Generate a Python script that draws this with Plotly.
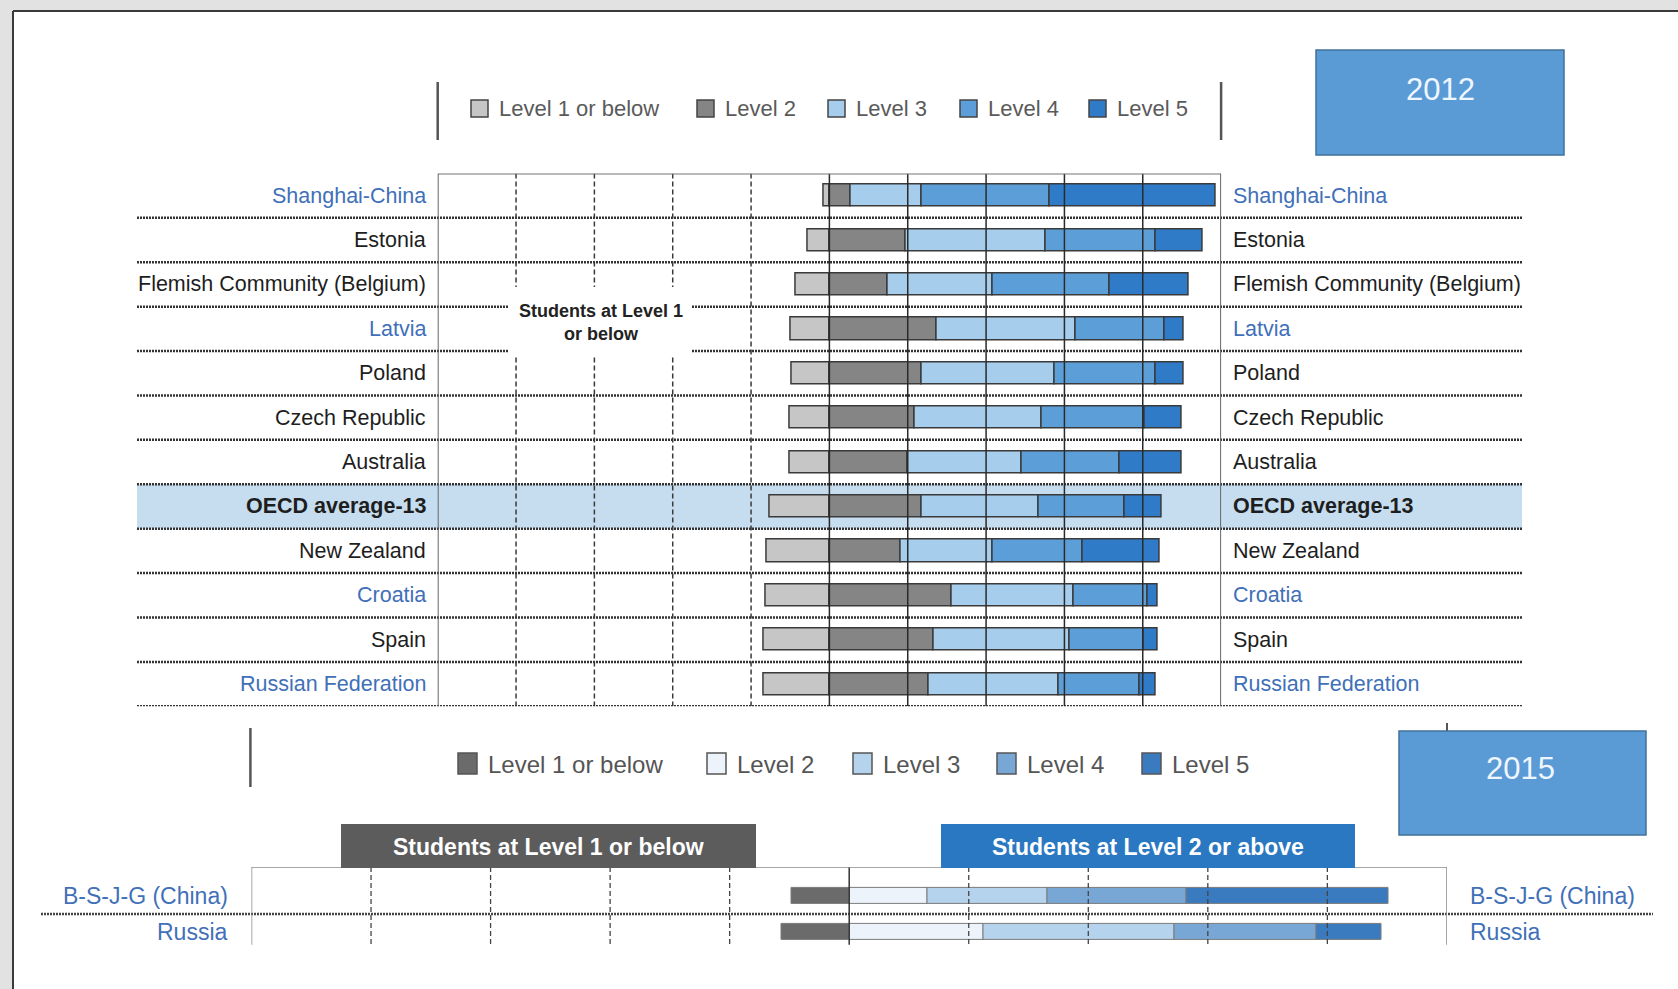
import plotly.graph_objects as go

# ---------------- data ----------------
levels = ["Level 1 or below", "Level 2", "Level 3", "Level 4", "Level 5"]

countries_2012 = ["Shanghai-China", "Estonia", "Flemish Community (Belgium)", "Latvia", "Poland",
                  "Czech Republic", "Australia", "OECD average-13", "New Zealand", "Croatia",
                  "Spain", "Russian Federation"]
partners_2012 = ["Shanghai-China", "Latvia", "Croatia", "Russian Federation"]
average_label = "OECD average-13"
level1_2012 = [1.4, 5.5, 8.5, 9.8, 9.5, 10.1, 10.1, 15.2, 16.0, 16.3, 16.7, 16.7]
level2_2012 = [5.5, 19.4, 14.9, 27.5, 23.5, 21.7, 20.1, 23.5, 18.3, 31.1, 26.6, 25.3]
level3_2012 = [18.0, 35.7, 26.8, 35.4, 33.9, 32.5, 29.0, 29.9, 23.4, 31.3, 34.8, 33.3]
level4_2012 = [32.8, 28.3, 29.9, 22.8, 26.0, 26.2, 24.9, 21.9, 23.0, 18.8, 18.9, 20.5]
level5_2012 = [42.4, 11.9, 20.0, 4.8, 7.0, 9.6, 16.0, 9.6, 19.6, 2.6, 3.4, 4.3]

countries_2015 = ["B-S-J-G (China)", "Russia"]
level1_2015 = [9.7, 11.3]
level2_2015 = [13.1, 22.4]
level3_2015 = [20.1, 32.1]
level4_2015 = [23.3, 23.7]
level5_2015 = [33.8, 10.8]

grid_ticks = [-80, -60, -40, -20, 0, 20, 40, 60, 80]
x_range = [-100, 100]
year_labels = ["2012", "2015"]
header_labels = ["Students at Level 1 or below", "Students at Level 2 or above"]
note_2012 = "Students at Level 1<br>or below"

# ---------------- styling ----------------
W, H = 1678, 989
def X(px): return px / W
def Y(py): return 1 - py / H

FONT = "Liberation Sans, Arial, sans-serif"
colors_2012 = ["#c6c6c6", "#858585", "#a6cdec", "#5c9fd8", "#2f7bc8"]
colors_2015 = ["#6b6b6b", "#edf3fa", "#b6d3ed", "#78a7d6", "#3a7bc0"]
BLUE_TXT = "#3f70b8"
DARK_TXT = "#1e1e1e"

fig = go.Figure()

series_2012 = [[-v for v in level1_2012], level2_2012, level3_2012, level4_2012, level5_2012]
rows_2012 = list(range(len(countries_2012)))
for name, vals, col in zip(levels, series_2012, colors_2012):
    fig.add_trace(go.Bar(
        y=rows_2012, x=vals, orientation="h", name=name, width=0.5,
        marker=dict(color=col, line=dict(color="#3a3a3a", width=1.5)),
        customdata=countries_2012, hovertemplate="%{customdata}: %{x}<extra>" + name + "</extra>",
        xaxis="x", yaxis="y", showlegend=False))

series_2015 = [[-v for v in level1_2015], level2_2015, level3_2015, level4_2015, level5_2015]
rows_2015 = list(range(len(countries_2015)))
for name, vals, col in zip(levels, series_2015, colors_2015):
    fig.add_trace(go.Bar(
        y=rows_2015, x=vals, orientation="h", name=name, width=0.44,
        marker=dict(color=col, line=dict(color="#7a7a7a", width=1)),
        customdata=countries_2015, hovertemplate="%{customdata}: %{x}<extra>" + name + "</extra>",
        xaxis="x2", yaxis="y2", showlegend=False))

n12 = len(countries_2012)
y2_top, y2_bot = -0.794, 1.5

fig.update_layout(
    width=W, height=H, margin=dict(l=0, r=0, t=0, b=0),
    paper_bgcolor="white", plot_bgcolor="rgba(0,0,0,0)",
    barmode="relative", bargap=0,
    font=dict(family=FONT, color=DARK_TXT),
    xaxis=dict(domain=[X(437.7), X(1221.1)], range=x_range, visible=False, anchor="y"),
    yaxis=dict(domain=[Y(706.3), Y(173.4)], range=[n12 - 0.5, -0.5], visible=False, anchor="x"),
    xaxis2=dict(domain=[X(251.5), X(1446.9)], range=x_range, visible=False, anchor="y2"),
    yaxis2=dict(domain=[Y(950.3), Y(866.9)], range=[y2_bot, y2_top], visible=False, anchor="x2"),
)

shapes = []
ann = []

def text(t, x, y, size, color, xanchor="center", xref="paper", yref="paper"):
    ann.append(dict(text=t, xref=xref, yref=yref, x=x, y=y, xanchor=xanchor, yanchor="middle",
                    showarrow=False, font=dict(size=size, color=color), align="center"))

# page background + slide frame
shapes.append(dict(type="rect", xref="paper", yref="paper", x0=0, x1=1, y0=0, y1=1,
                   fillcolor="#e2e2e2", line=dict(width=0), layer="below"))
shapes.append(dict(type="rect", xref="paper", yref="paper", x0=X(13), x1=1, y0=0, y1=Y(11),
                   fillcolor="white", line=dict(width=0), layer="below"))
shapes.append(dict(type="line", xref="paper", yref="paper", x0=X(13), x1=X(13), y0=0, y1=Y(11),
                   line=dict(color="#3a3a3a", width=2), layer="below"))
shapes.append(dict(type="line", xref="paper", yref="paper", x0=X(13), x1=1, y0=Y(11), y1=Y(11),
                   line=dict(color="#3a3a3a", width=2), layer="below"))

# OECD average band
avg_i = countries_2012.index(average_label)
shapes.append(dict(type="rect", xref="paper", yref="y", x0=X(137), x1=X(1522), y0=avg_i - 0.5, y1=avg_i + 0.5,
                   fillcolor="#c6ddf0", line=dict(width=0), layer="below"))

# ---- 2012 grid ----
for i in range(n12):
    shapes.append(dict(type="line", xref="paper", yref="y", x0=X(137), x1=X(1522), y0=i + 0.5, y1=i + 0.5,
                       line=dict(color="#333", width=2.5, dash="2px,1px"), layer="above"))
for t in grid_ticks:
    if t < 0:
        ln = dict(color="#3a3a3a", width=1.5, dash="5px,3px")
    else:
        ln = dict(color="#2a2a2a", width=1.5)
    shapes.append(dict(type="line", xref="x", yref="y", x0=t, x1=t, y0=-0.5, y1=n12 - 0.5, line=ln, layer="above"))
shapes.append(dict(type="line", xref="x", yref="y", x0=x_range[0], x1=x_range[1], y0=-0.5, y1=-0.5,
                   line=dict(color="#777", width=2), layer="above"))
for xv in x_range:
    shapes.append(dict(type="line", xref="x", yref="y", x0=xv, x1=xv, y0=-0.5, y1=n12 - 0.5,
                       line=dict(color="#666", width=2), layer="above"))
# white box behind note
shapes.append(dict(type="rect", xref="paper", yref="paper", x0=X(508), x1=X(691), y0=Y(356), y1=Y(287),
                   fillcolor="white", line=dict(width=0), layer="above"))
text("<b>" + note_2012 + "</b>", X(601), Y(322), 18, "#222")

# 2012 labels
for i, c in enumerate(countries_2012):
    col = BLUE_TXT if c in partners_2012 else DARK_TXT
    txt = "<b>" + c + "</b>" if c == average_label else c
    text(txt, X(428), i, 21.5, col, xanchor="right", yref="y")
    text(txt, X(1231), i, 21.5, col, xanchor="left", yref="y")

# 2012 legend
for xv in (437.7, 1221.1):
    shapes.append(dict(type="line", xref="paper", yref="paper", x0=X(xv), x1=X(xv), y0=Y(140), y1=Y(82),
                       line=dict(color="#555", width=2.5), layer="above"))
leg12_sq = [471, 697, 828, 960, 1089]
for name, col, sx in zip(levels, colors_2012, leg12_sq):
    shapes.append(dict(type="rect", xref="paper", yref="paper", x0=X(sx), x1=X(sx + 17), y0=Y(117), y1=Y(100),
                       fillcolor=col, line=dict(color="#444", width=1.5), layer="above"))
    text(name, X(sx + 26), Y(108), 22, "#5a5a5a", xanchor="left")

# 2012 year box
shapes.append(dict(type="rect", xref="paper", yref="paper", x0=X(1316), x1=X(1564), y0=Y(155), y1=Y(50),
                   fillcolor="#5b9bd5", line=dict(color="#41719c", width=1.5), layer="above"))
text(year_labels[0], X(1440), Y(89), 31, "#eef6ff")

# ---- 2015 ----
shapes.append(dict(type="line", xref="paper", yref="y2", x0=X(41), x1=X(1653), y0=0.5, y1=0.5,
                   line=dict(color="#444", width=2.5, dash="2px,1px"), layer="above"))
for t in grid_ticks:
    if t == 0:
        ln = dict(color="#333", width=1.5)
    else:
        ln = dict(color="#444", width=1.3, dash="5px,3px")
    shapes.append(dict(type="line", xref="x2", yref="y2", x0=t, x1=t, y0=y2_top, y1=1.35, line=ln, layer="above"))
shapes.append(dict(type="line", xref="x2", yref="y2", x0=x_range[0], x1=x_range[1], y0=y2_top, y1=y2_top,
                   line=dict(color="#8a8a8a", width=1.5), layer="above"))
for xv in x_range:
    shapes.append(dict(type="line", xref="x2", yref="y2", x0=xv, x1=xv, y0=y2_top, y1=1.35,
                       line=dict(color="#8a8a8a", width=1.5), layer="above"))

for i, c in enumerate(countries_2015):
    text(c, X(230), i, 23, BLUE_TXT, xanchor="right", yref="y2")
    text(c, X(1468), i, 23, BLUE_TXT, xanchor="left", yref="y2")

# headers
shapes.append(dict(type="rect", xref="paper", yref="paper", x0=X(341), x1=X(756), y0=Y(868), y1=Y(824),
                   fillcolor="#5c5c5c", line=dict(width=0), layer="above"))
text("<b>" + header_labels[0] + "</b>", X(548), Y(847), 23, "white")
shapes.append(dict(type="rect", xref="paper", yref="paper", x0=X(941), x1=X(1355), y0=Y(868), y1=Y(824),
                   fillcolor="#2b78c2", line=dict(width=0), layer="above"))
text("<b>" + header_labels[1] + "</b>", X(1148), Y(847), 23, "white")

# 2015 legend
shapes.append(dict(type="line", xref="paper", yref="paper", x0=X(250.4), x1=X(250.4), y0=Y(787), y1=Y(728),
                   line=dict(color="#555", width=2.5), layer="above"))
shapes.append(dict(type="line", xref="paper", yref="paper", x0=X(1447), x1=X(1447), y0=Y(731), y1=Y(723),
                   line=dict(color="#555", width=2), layer="above"))
leg15_sq = [458, 707, 853, 997, 1142]
for name, col, sx in zip(levels, colors_2015, leg15_sq):
    shapes.append(dict(type="rect", xref="paper", yref="paper", x0=X(sx), x1=X(sx + 19), y0=Y(774), y1=Y(753),
                       fillcolor=col, line=dict(color="#555", width=1.5), layer="above"))
    text(name, X(sx + 28), Y(764), 24, "#555", xanchor="left")

# 2015 year box
shapes.append(dict(type="rect", xref="paper", yref="paper", x0=X(1399), x1=X(1646), y0=Y(835), y1=Y(731),
                   fillcolor="#5b9bd5", line=dict(color="#41719c", width=1.5), layer="above"))
text(year_labels[1], X(1520), Y(768), 31, "#eef6ff")

fig.update_layout(shapes=shapes, annotations=ann)
fig.write_html("out.html", config={"displayModeBar": False},
               post_script="document.body.style.margin='0';document.body.style.overflow='hidden';")
